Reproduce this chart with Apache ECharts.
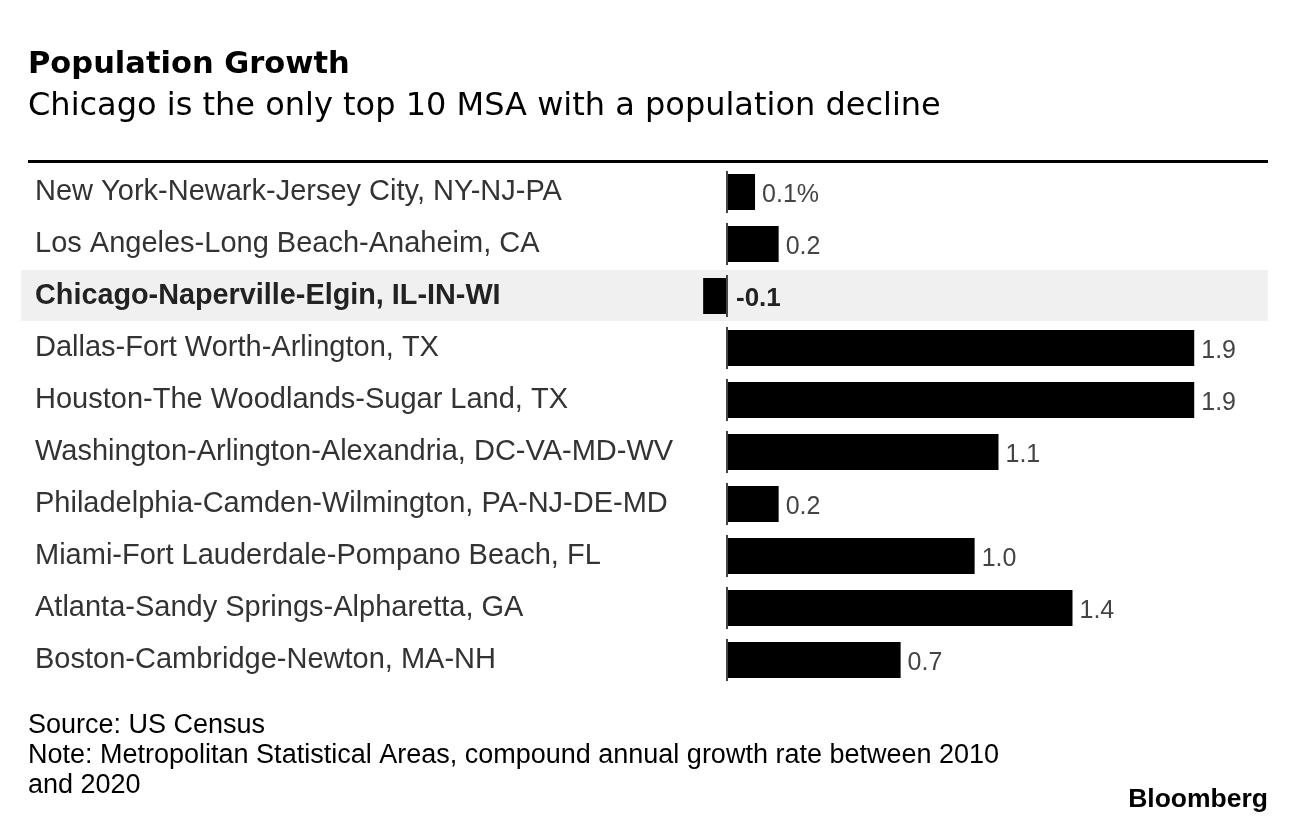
<!DOCTYPE html>
<html><head><meta charset="utf-8">
<script src="https://cdn.jsdelivr.net/npm/echarts@6/dist/echarts.min.js"></script>
<style>html,body{margin:0;padding:0;background:#fff}#c{width:1296px;height:824px}</style>
</head><body><div id="c"></div>
<script>
const categories = [
  'New York-Newark-Jersey City, NY-NJ-PA',
  'Los Angeles-Long Beach-Anaheim, CA',
  'Chicago-Naperville-Elgin, IL-IN-WI',
  'Dallas-Fort Worth-Arlington, TX',
  'Houston-The Woodlands-Sugar Land, TX',
  'Washington-Arlington-Alexandria, DC-VA-MD-WV',
  'Philadelphia-Camden-Wilmington, PA-NJ-DE-MD',
  'Miami-Fort Lauderdale-Pompano Beach, FL',
  'Atlanta-Sandy Springs-Alpharetta, GA',
  'Boston-Cambridge-Newton, MA-NH'
];
const growth = [0.114, 0.21, -0.097, 1.9, 1.9, 1.104, 0.21, 1.007, 1.405, 0.706];
const highlighted = 'Chicago-Naperville-Elgin, IL-IN-WI';
const titleText = 'Population Growth';
const subtitleText = 'Chicago is the only top 10 MSA with a population decline';
const sourceText = 'Source: US Census';
const noteText = 'Note: Metropolitan Statistical Areas, compound annual growth rate between 2010\nand 2020';
const brandText = 'Bloomberg';

const FONT = '"Liberation Sans", Arial, Helvetica, sans-serif';
const HEAD = '"DejaVu Sans", "Liberation Sans", sans-serif';
const chart = echarts.init(document.getElementById('c'), null, {renderer: 'canvas'});

const barData = growth.map((v, i) => {
  const item = {value: v};
  if (categories[i] === highlighted) {
    item.label = {fontWeight: 'bold', color: '#222', position: 'right', fontSize: 26, distance: 9};
  }
  return item;
});

const option = {
  animation: false,
  backgroundColor: '#fff',
  textStyle: {fontFamily: FONT},
  title: [
    {text: titleText, left: 28, top: 50, padding: 0, textStyle: {fontFamily: HEAD, fontSize: 30.5, fontWeight: 'bold', color: '#000'}},
    {text: subtitleText, left: 28, top: 91, padding: 0, textStyle: {fontFamily: HEAD, fontSize: 32, fontWeight: 'normal', color: '#000'}},
    {text: sourceText + '\n' + noteText, left: 28, top: 711, padding: 0, textStyle: {fontFamily: FONT, fontSize: 27, fontWeight: 'normal', color: '#000', lineHeight: 30}},
    {text: brandText, right: 28, top: 786, padding: 0, textStyle: {fontFamily: FONT, fontSize: 26.5, fontWeight: 'bold', color: '#000'}}
  ],
  graphic: [
    {type: 'rect', shape: {x: 28, y: 160, width: 1240, height: 3}, style: {fill: '#000'}}
  ],
  grid: {left: 21, right: 28, top: 166, bottom: 138, containLabel: false},
  xAxis: {
    type: 'value', min: -2.871, max: 2.2,
    axisLine: {show: false}, axisTick: {show: false}, axisLabel: {show: false}, splitLine: {show: false}
  },
  yAxis: {
    type: 'category', data: categories, inverse: true,
    axisLine: {show: false}, axisTick: {show: false}, splitLine: {show: false},
    z: 10,
    axisLabel: {
      inside: true, margin: 14, align: 'left', fontSize: 29, color: '#333', fontFamily: FONT,
      formatter: v => v === highlighted ? '{b|' + v + '}' : v,
      rich: {b: {fontWeight: 'bold', fontSize: 28.8, color: '#222', fontFamily: FONT}}
    }
  },
  series: [
    {
      type: 'custom', z: 0, silent: true,
      data: [[0, categories.indexOf(highlighted)]],
      encode: {x: 0, y: 1},
      renderItem: (params, api) => {
        const c = api.coord([0, api.value(1)]);
        const h = api.size([0, 1])[1];
        const cs = params.coordSys;
        return {type: 'rect', shape: {x: cs.x, y: c[1] - h / 2, width: cs.width, height: h - 1}, style: {fill: '#f0f0f0'}};
      }
    },
    {
      type: 'bar', data: barData, barWidth: 36, z: 2,
      itemStyle: {color: '#000'},
      label: {
        show: true, position: 'right', distance: 7, offset: [0, 3], fontSize: 25, color: '#444', fontFamily: FONT,
        formatter: p => p.value.toFixed(1) + (p.dataIndex === 0 ? '%' : '')
      }
    },
    {
      type: 'scatter', z: 3, silent: true,
      data: categories.map(c => [0, c]),
      symbol: 'rect', symbolSize: [2, 42],
      itemStyle: {color: '#444', opacity: 1}
    }
  ]
};
chart.setOption(option);
</script>
</body></html>
